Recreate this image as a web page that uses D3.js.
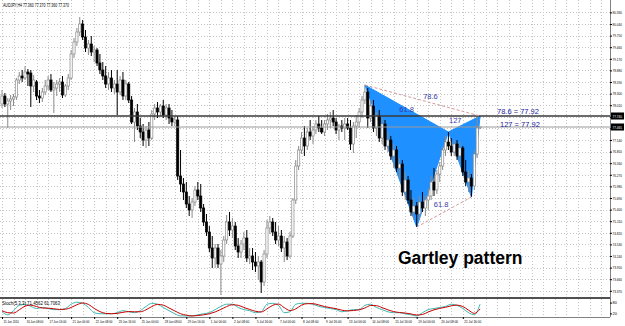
<!DOCTYPE html>
<html>
<head>
<meta charset="utf-8">
<script src="https://cdn.jsdelivr.net/npm/d3@7"></script>
<style>
  body { margin: 0; background: #fff; }
  svg { display: block; font-family: "Liberation Sans", Arial, sans-serif; }
</style>
</head>
<body>
<div id="chart"></div>
<script>
// AUDJPY H4, 15 Jun - 22 Jul 2010, one entry per bar
const opens = [
  78.04, 78.24, 78.04, 78.115, 78.165, 78.215, 78.64, 78.74, 78.69, 78.84,
  78.815, 78.49, 78.59, 78.24, 78.19, 78.34, 78.49, 78.64, 78.39, 78.44,
  78.54, 78.59, 78.265, 78.49, 78.69, 79.29, 79.59, 79.84, 80.04, 79.715,
  79.44, 79.54, 79.34, 79.39, 79.065, 78.89, 78.74, 78.54, 78.69, 78.44,
  78.54, 78.34, 78.64, 78.24, 78.54, 78.14, 77.59, 77.84, 77.49, 77.34,
  77.14, 77.39, 77.19, 77.79, 77.94, 77.84, 77.99, 77.765, 77.94, 77.69,
  77.59, 77.64, 76.24, 76.04, 75.84, 75.54, 75.39, 75.59, 75.89, 75.74,
  75.44, 75.09, 74.84, 74.44, 74.19, 74.44, 74.04, 74.24, 74.64, 75.09,
  74.89, 74.99, 74.49, 74.34, 74.54, 74.69, 74.19, 74.24, 74.09, 73.99,
  74.09, 73.59, 74.29, 74.94, 75.09, 74.84, 74.64, 74.74, 74.44, 74.59,
  74.24, 74.74, 75.64, 76.49, 76.89, 77.19, 76.99, 77.34, 77.24, 77.39,
  77.54, 77.44, 77.34, 77.54, 77.64, 77.69, 77.59, 77.39, 77.49, 77.44,
  77.54, 77.44, 77.04, 77.49, 77.59, 77.84, 78.14, 78.34, 77.69, 77.99,
  77.44, 77.74, 77.19, 77.54, 76.99, 77.14, 76.74, 76.89, 76.44, 76.54,
  75.84, 76.14, 75.64, 75.34, 75.49, 75.29, 75.59, 75.44, 75.64, 75.74,
  76.09, 75.89, 76.29, 76.49, 76.89, 77.09, 76.99, 76.84, 77.04, 76.74,
  76.94, 76.34, 76.09, 76.19, 75.99, 76.79, 77.44
];
const highs = [
  78.39, 78.315, 78.19, 78.265, 78.29, 78.69, 78.84, 78.89, 78.99, 78.915,
  78.89, 78.765, 78.64, 78.39, 78.44, 78.64, 78.74, 78.79, 78.59, 78.64,
  78.69, 78.74, 78.54, 78.79, 79.39, 79.69, 79.94, 80.215, 80.14, 79.89,
  79.64, 79.74, 79.49, 79.44, 79.29, 79.09, 78.99, 78.84, 78.89, 78.64,
  78.89, 78.74, 78.84, 78.64, 78.59, 78.24, 77.94, 78.04, 77.69, 77.54,
  77.49, 77.59, 77.89, 78.04, 78.09, 78.04, 78.14, 78.04, 78.04, 77.89,
  77.74, 77.74, 76.89, 76.19, 76.09, 75.74, 75.69, 75.99, 76.09, 76.04,
  75.54, 75.29, 74.99, 74.74, 74.54, 74.54, 74.39, 74.74, 75.265, 75.34,
  75.19, 75.09, 74.69, 74.64, 74.84, 74.89, 74.44, 74.44, 74.34, 74.24,
  74.14, 74.39, 75.14, 75.24, 75.19, 75.09, 74.99, 74.89, 74.74, 74.69,
  74.84, 75.69, 76.64, 76.99, 77.34, 77.49, 77.44, 77.64, 77.49, 77.64,
  77.74, 77.64, 77.64, 77.79, 77.84, 77.89, 77.69, 77.54, 77.64, 77.69,
  77.69, 77.64, 77.59, 77.765, 77.94, 78.24, 78.515, 78.44, 78.14, 78.14,
  77.84, 77.89, 77.69, 77.64, 77.34, 77.24, 77.04, 76.99, 76.69, 76.64,
  76.34, 76.24, 75.89, 75.69, 75.59, 75.74, 75.84, 75.74, 75.94, 76.24,
  76.44, 76.39, 76.59, 76.99, 77.24, 77.34, 77.19, 77.14, 77.14, 77.09,
  76.99, 76.64, 76.39, 76.29, 76.89, 77.74, 77.465
];
const lows = [
  77.94, 77.965, 77.44, 77.89, 77.99, 78.14, 78.54, 78.59, 78.64, 78.49,
  77.965, 78.34, 78.14, 78.065, 78.09, 78.265, 78.39, 78.34, 77.815, 78.24,
  78.34, 78.19, 78.215, 78.39, 78.64, 79.19, 79.49, 79.74, 79.64, 79.34,
  79.265, 79.24, 79.09, 78.99, 78.79, 78.64, 78.44, 78.39, 78.34, 78.29,
  77.765, 78.265, 78.14, 78.14, 78.065, 77.54, 77.09, 77.39, 77.19, 76.99,
  76.94, 76.99, 77.14, 77.64, 77.69, 77.74, 77.69, 77.64, 77.54, 77.49,
  77.49, 76.14, 75.84, 75.64, 75.44, 75.24, 75.19, 75.49, 75.64, 75.34,
  74.99, 74.74, 74.34, 73.94, 73.94, 73.94, 73.265, 74.09, 74.54, 74.74,
  74.69, 74.39, 74.19, 74.19, 74.39, 74.09, 74.04, 73.89, 73.84, 73.64,
  73.315, 73.49, 74.19, 74.79, 74.74, 74.54, 74.49, 74.34, 74.09, 74.14,
  74.19, 74.69, 75.54, 76.39, 76.79, 76.74, 76.89, 77.14, 77.04, 77.29,
  77.34, 77.29, 77.24, 77.39, 77.44, 77.49, 77.29, 77.14, 77.34, 77.14,
  77.39, 76.89, 76.815, 77.19, 77.44, 77.69, 78.04, 77.44, 77.59, 77.34,
  77.24, 77.09, 77.04, 76.89, 76.84, 76.64, 76.44, 76.34, 76.19, 75.74,
  75.64, 75.54, 75.24, 75.14, 74.965, 75.14, 75.34, 75.24, 75.39, 75.64,
  75.74, 75.79, 76.09, 76.39, 76.74, 76.89, 76.74, 76.74, 76.64, 76.59,
  76.24, 75.99, 75.84, 75.715, 75.89, 76.69, 77.415
];
const closes = [
  78.24, 78.04, 78.115, 78.165, 78.215, 78.64, 78.74, 78.69, 78.84, 78.79,
  78.49, 78.64, 78.24, 78.19, 78.34, 78.49, 78.64, 78.39, 78.44, 78.54,
  78.59, 78.265, 78.49, 78.69, 79.29, 79.59, 79.84, 80.04, 79.715, 79.44,
  79.54, 79.34, 79.39, 79.065, 78.89, 78.74, 78.54, 78.69, 78.44, 78.54,
  78.34, 78.64, 78.24, 78.54, 78.14, 77.59, 77.84, 77.49, 77.34, 77.14,
  77.39, 77.19, 77.79, 77.94, 77.84, 77.99, 77.765, 77.94, 77.69, 77.59,
  77.64, 76.24, 76.04, 75.84, 75.54, 75.39, 75.59, 75.89, 75.74, 75.44,
  75.09, 74.84, 74.44, 74.19, 74.44, 74.04, 74.24, 74.64, 75.09, 74.89,
  74.99, 74.49, 74.34, 74.54, 74.69, 74.19, 74.24, 74.09, 73.99, 74.09,
  73.59, 74.29, 74.94, 75.09, 74.84, 74.64, 74.74, 74.44, 74.59, 74.24,
  74.74, 75.64, 76.49, 76.89, 77.19, 76.99, 77.34, 77.24, 77.39, 77.54,
  77.44, 77.34, 77.54, 77.64, 77.69, 77.59, 77.39, 77.49, 77.44, 77.54,
  77.44, 77.04, 77.49, 77.59, 77.84, 78.14, 78.34, 77.69, 77.99, 77.44,
  77.74, 77.19, 77.54, 76.99, 77.14, 76.74, 76.89, 76.44, 76.54, 75.84,
  76.14, 75.64, 75.34, 75.49, 75.29, 75.59, 75.44, 75.64, 75.74, 76.09,
  75.89, 76.29, 76.49, 76.89, 77.09, 76.99, 76.84, 77.04, 76.74, 76.94,
  76.34, 76.09, 76.19, 75.99, 76.79, 77.44, 77.465
];

// right price scale labels
const priceTicks = [80.33, 80.04, 79.75, 79.46, 79.17, 78.88, 78.59, 78.30, 78.01, 77.72,
  77.43, 77.14, 76.85, 76.56, 76.27, 75.98, 75.69, 75.40, 75.11, 74.82,
  74.53, 74.24, 73.95, 73.66, 73.37];

// time labels, one every 8 bars
const timeLabels = ['15 Jun 2010', '16 Jun 08:00', '17 Jun 16:00', '21 Jun 00:00', '22 Jun 08:00',
  '23 Jun 16:00', '25 Jun 00:00', '28 Jun 08:00', '29 Jun 16:00', '1 Jul 00:00', '2 Jul 08:00',
  '5 Jul 16:00', '7 Jul 00:00', '8 Jul 08:00', '9 Jul 16:00', '13 Jul 00:00', '14 Jul 08:00',
  '15 Jul 16:00', '19 Jul 00:00', '20 Jul 08:00', '21 Jul 16:00'];

// stochastic (5,3,3), read every 2nd bar
const STOCH_STEP = 2;
const stochMain = [29, 12, 35, 65, 71, 59, 47, 53, 47, 41, 41, 47, 71, 82, 76, 53, 24, 18, 18, 18,
  24, 35, 29, 24, 35, 59, 76, 71, 53, 35, 18, 6, 6, 6, 12, 18, 24, 41, 59, 71,
  71, 53, 41, 35, 24, 29, 71, 76, 65, 24, 29, 71, 76, 76, 71, 59, 53, 47, 41, 29,
  35, 41, 41, 65, 71, 53, 41, 29, 24, 24, 18, 12, 6, 24, 41, 47, 53, 59, 71, 65,
  47, 24, 12, 71];
const stochSignal = [35, 24, 22, 40, 60, 66, 58, 50, 49, 46, 42, 43, 53, 68, 78, 70, 48, 30, 20, 18,
  20, 26, 30, 29, 29, 40, 58, 70, 66, 50, 34, 18, 10, 6, 8, 12, 18, 28, 42, 58,
  68, 65, 53, 42, 32, 28, 45, 65, 72, 52, 36, 45, 66, 74, 74, 67, 58, 52, 46, 38,
  34, 36, 40, 50, 64, 63, 52, 40, 30, 25, 22, 17, 11, 14, 28, 40, 48, 54, 62, 66,
  58, 38, 20, 45];

// Gartley points X, A, B, C, D (bar index, price)
const patternBars = [126, 144, 155, 163, 166];
const patternPrices = [78.515, 74.965, 77.34, 75.715, 77.74];
const ratioLabels = ['78.6', '61.8', '127', '61.8'];
const noteLabels = ['78.6 = 77.92', '127 = 77.92'];

const levelPrice = 77.74;
const bidPrice = 77.465;
const titleText = 'AUDJPY,H4 77.360 77.370 77.360 77.370';
const stochText = 'Stoch(5,3,3) 71.4562 61.7063';

const width = 625, height = 326;
const axisX = 610, mainBottom = 298, subTop = 299, subBottom = 317;

const svg = d3.select('#chart').append('svg')
  .attr('width', width).attr('height', height);

const x = d3.scaleLinear().domain([0, 208]).range([2, 601.04]);
const y = d3.scaleLinear().domain([73.2, 80.64]).range([297.6, 0]);
const s = d3.scaleLinear().domain([0, 100]).range([subBottom, subTop]);

// grid
const grid = svg.append('g').attr('stroke', '#c4c4c4').attr('stroke-dasharray', '1,2');
grid.selectAll('.hg').data(priceTicks).enter().append('line')
  .attr('x1', 0).attr('x2', axisX)
  .attr('y1', d => Math.round(y(d)) + 0.5).attr('y2', d => Math.round(y(d)) + 0.5);
grid.selectAll('.vg').data(d3.range(0, 209, 4)).enter().append('line')
  .attr('x1', d => Math.round(x(d)) + 0.5).attr('x2', d => Math.round(x(d)) + 0.5)
  .attr('y1', 0).attr('y2', mainBottom);
grid.selectAll('.vs').data(d3.range(0, 209, 4)).enter().append('line')
  .attr('x1', d => Math.round(x(d)) + 0.5).attr('x2', d => Math.round(x(d)) + 0.5)
  .attr('y1', subTop).attr('y2', subBottom);

// blue pattern triangles
const pts = patternBars.map((b, i) => [x(b), y(patternPrices[i])]);
svg.append('polygon').attr('points', [pts[0], pts[1], pts[2]].join(' '))
  .attr('fill', '#1e90ff').attr('stroke', '#1e90ff');
svg.append('polygon').attr('points', [pts[2], pts[3], pts[4]].join(' '))
  .attr('fill', '#1e90ff').attr('stroke', '#1e90ff');

// candles
const bars = d3.range(opens.length);
const candle = svg.append('g').selectAll('g').data(bars).enter().append('g');
candle.append('line')
  .attr('x1', i => x(i)).attr('x2', i => x(i))
  .attr('y1', i => y(highs[i])).attr('y2', i => y(lows[i]))
  .attr('stroke', i => closes[i] >= opens[i] ? '#8a8a8a' : '#000')
  .attr('stroke-width', 1);
candle.append('rect')
  .attr('x', i => x(i) - 1.1)
  .attr('width', 2.2)
  .attr('y', i => y(Math.max(opens[i], closes[i])))
  .attr('height', i => Math.max(0.8, Math.abs(y(opens[i]) - y(closes[i]))))
  .attr('fill', i => closes[i] >= opens[i] ? '#fff' : '#000')
  .attr('stroke', i => closes[i] >= opens[i] ? '#8a8a8a' : '#000')
  .attr('stroke-width', 0.7);

// horizontal lines
svg.append('line').attr('x1', 0).attr('x2', axisX)
  .attr('y1', y(levelPrice)).attr('y2', y(levelPrice))
  .attr('stroke', '#3a3a3a').attr('stroke-width', 1.6);
svg.append('line').attr('x1', 0).attr('x2', axisX)
  .attr('y1', y(bidPrice)).attr('y2', y(bidPrice))
  .attr('stroke', '#9a9a9a').attr('stroke-width', 1);

// dashed ratio lines X-D and A-C
svg.append('line').attr('x1', pts[0][0]).attr('y1', pts[0][1]).attr('x2', pts[4][0]).attr('y2', pts[4][1])
  .attr('stroke', '#d4989c').attr('stroke-dasharray', '3,2');
svg.append('line').attr('x1', pts[1][0]).attr('y1', pts[1][1]).attr('x2', pts[3][0]).attr('y2', pts[3][1])
  .attr('stroke', '#d4989c').attr('stroke-dasharray', '3,2');

const mid = (a, b) => [(a[0] + b[0]) / 2, (a[1] + b[1]) / 2];
const labelPos = [
  [mid(pts[0], pts[4])[0] + 8, mid(pts[0], pts[4])[1] - 2],
  [mid(pts[0], pts[2])[0], mid(pts[0], pts[2])[1] + 3],
  [mid(pts[2], pts[4])[0] - 9, mid(pts[2], pts[4])[1] - 1],
  [mid(pts[1], pts[3])[0] - 3, mid(pts[1], pts[3])[1] - 5]
];
svg.append('g').selectAll('text').data(ratioLabels).enter().append('text')
  .attr('x', (d, i) => labelPos[i][0]).attr('y', (d, i) => labelPos[i][1])
  .attr('text-anchor', 'middle').attr('font-size', 7.5).attr('fill', '#3a3aa8')
  .text(d => d);

svg.append('g').selectAll('text').data(noteLabels).enter().append('text')
  .attr('x', (d, i) => 497 + i * 3).attr('y', (d, i) => y(levelPrice) - 2 + i * 13)
  .attr('font-size', 7.5).attr('fill', '#22229a')
  .text(d => d);

svg.append('text').attr('x', 398).attr('y', 264)
  .attr('font-size', 17.5).attr('font-weight', 'bold').attr('fill', '#000')
  .text('Gartley pattern');

// stochastic sub window
svg.append('line').attr('x1', 0).attr('x2', axisX).attr('y1', 298).attr('y2', 298)
  .attr('stroke', '#505050').attr('stroke-width', 2);
const stochLine = d3.line()
  .x((d, i) => x(i * STOCH_STEP)).y(d => s(d)).curve(d3.curveMonotoneX);
svg.append('path').datum(stochMain).attr('d', stochLine)
  .attr('fill', 'none').attr('stroke', '#3cb8b0').attr('stroke-width', 1);
svg.append('path').datum(stochSignal).attr('d', stochLine)
  .attr('fill', 'none').attr('stroke', '#c80000').attr('stroke-width', 1);

// titles
svg.append('text').attr('x', 3).attr('y', 7).attr('font-size', 4.5)
  .attr('textLength', 66).attr('lengthAdjust', 'spacingAndGlyphs').text(titleText);
svg.append('text').attr('x', 2).attr('y', 305).attr('font-size', 4.5)
  .attr('textLength', 58).attr('lengthAdjust', 'spacingAndGlyphs').text(stochText);

// frame
svg.append('line').attr('x1', axisX + 0.5).attr('x2', axisX + 0.5).attr('y1', 0).attr('y2', subBottom)
  .attr('stroke', '#808080');
svg.append('line').attr('x1', 0).attr('x2', axisX).attr('y1', subBottom + 0.5).attr('y2', subBottom + 0.5)
  .attr('stroke', '#808080');

// price axis; labels under the highlighted boxes are covered, as in the terminal
const covered = d => [levelPrice, bidPrice].some(p => Math.abs(y(p) - y(d)) < 6);
const priceAxis = svg.append('g').attr('transform', `translate(${axisX},0)`)
  .call(d3.axisRight(y).tickValues(priceTicks).tickSize(2)
    .tickFormat(d => covered(d) ? '' : d3.format('.3f')(d)));
priceAxis.select('.domain').remove();
priceAxis.selectAll('text').attr('x', 2.5).attr('font-size', 4)
  .attr('textLength', 9.5).attr('lengthAdjust', 'spacingAndGlyphs').attr('fill', '#000');

// highlighted price labels
[levelPrice, bidPrice].forEach(p => {
  svg.append('rect').attr('x', axisX + 1).attr('y', y(p) - 3.5).attr('width', 13).attr('height', 7)
    .attr('fill', '#000');
  svg.append('text').attr('x', axisX + 2.5).attr('y', y(p) + 1.6).attr('font-size', 4)
    .attr('textLength', 9.5).attr('lengthAdjust', 'spacingAndGlyphs').attr('fill', '#fff')
    .text(d3.format('.3f')(p));
});

// stochastic axis
const stochAxis = svg.append('g').attr('transform', `translate(${axisX},0)`)
  .call(d3.axisRight(s).tickValues([80, 20]).tickSize(2).tickFormat(d3.format('d')));
stochAxis.select('.domain').remove();
stochAxis.selectAll('text').attr('x', 2.5).attr('font-size', 4).attr('fill', '#000');

// time axis
const labelBars = timeLabels.map((d, i) => i * 8);
const timeAxis = svg.append('g').attr('transform', `translate(0,${subBottom})`)
  .call(d3.axisBottom(x).tickValues(labelBars).tickSize(2).tickFormat((d, i) => timeLabels[i]));
timeAxis.select('.domain').remove();
timeAxis.selectAll('text').attr('text-anchor', 'start').attr('dx', 1).attr('y', 3).attr('font-size', 4)
  .attr('textLength', d => timeLabels[d / 8].length * 1.4).attr('lengthAdjust', 'spacingAndGlyphs')
  .attr('fill', '#000');
</script>
</body>
</html>
